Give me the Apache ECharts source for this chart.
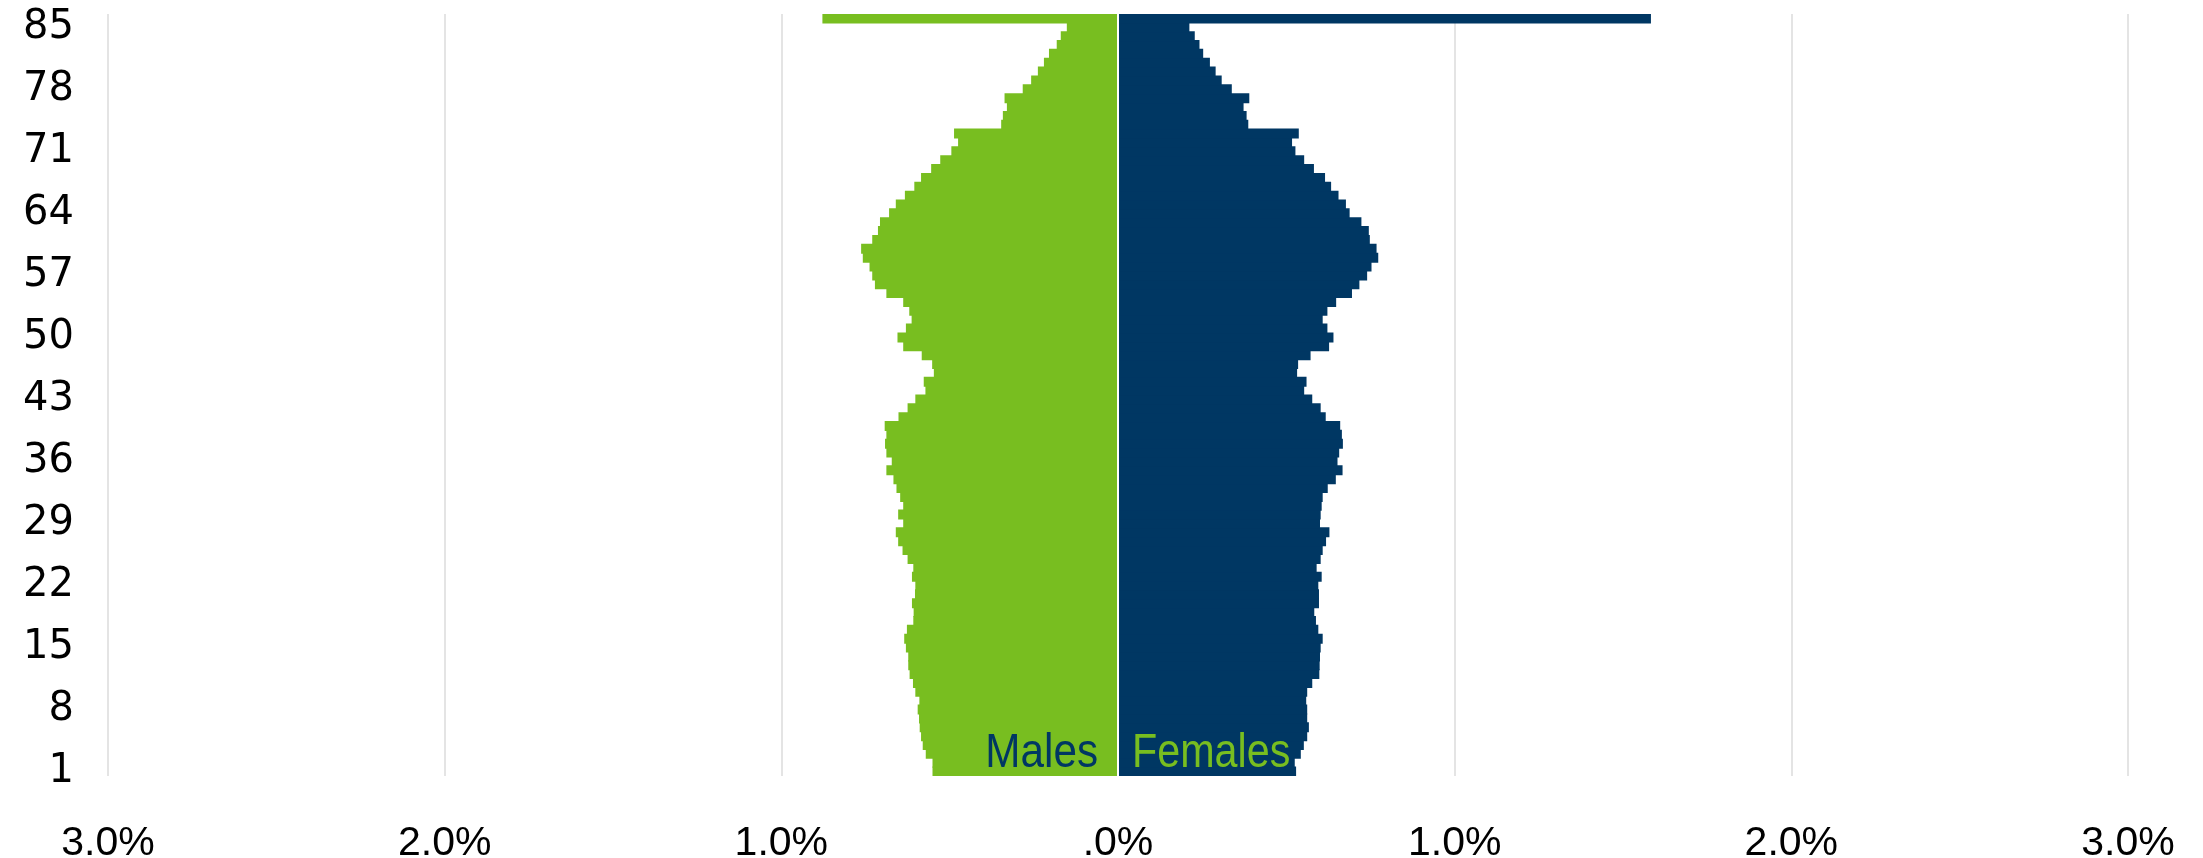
<!DOCTYPE html>
<html>
<head>
<meta charset="utf-8">
<script src="https://cdn.jsdelivr.net/npm/echarts@6/dist/echarts.min.js"></script>
<style>
    html, body { margin: 0; padding: 0; background: #fff; }
    #pyramid { width: 2203px; height: 858px; }
</style>
</head>
<body>
<div id="pyramid"></div>
<script>
    // ages 1..86 (bottom to top), values in % of total population
    const ages = [];
    for (let a = 1; a <= 86; a++) ages.push(String(a));

    const males = [
        0.551, 0.551, 0.571, 0.580, 0.585, 0.589, 0.591, 0.595, 0.590, 0.602,
        0.609, 0.619, 0.623, 0.623, 0.630, 0.635, 0.627, 0.608, 0.607, 0.612,
        0.603, 0.602, 0.612, 0.608, 0.625, 0.640, 0.653, 0.660, 0.638, 0.653,
        0.638, 0.647, 0.658, 0.667, 0.688, 0.672, 0.688, 0.692, 0.688, 0.693,
        0.652, 0.625, 0.602, 0.572, 0.577, 0.547, 0.552, 0.583, 0.638, 0.655,
        0.630, 0.613, 0.620, 0.638, 0.688, 0.722, 0.730, 0.738, 0.758, 0.763,
        0.730, 0.713, 0.707, 0.680, 0.660, 0.633, 0.605, 0.585, 0.555, 0.528,
        0.495, 0.475, 0.487, 0.347, 0.342, 0.330, 0.337, 0.283, 0.258, 0.238,
        0.220, 0.205, 0.182, 0.170, 0.152, 0.878
    ];

    const females = [
        0.529, 0.525, 0.543, 0.552, 0.562, 0.567, 0.562, 0.562, 0.559, 0.562,
        0.577, 0.598, 0.599, 0.600, 0.602, 0.608, 0.595, 0.588, 0.583, 0.597,
        0.597, 0.595, 0.605, 0.590, 0.602, 0.608, 0.618, 0.628, 0.600, 0.602,
        0.605, 0.608, 0.623, 0.647, 0.667, 0.652, 0.657, 0.668, 0.665, 0.660,
        0.617, 0.602, 0.577, 0.553, 0.560, 0.532, 0.535, 0.572, 0.627, 0.640,
        0.622, 0.608, 0.622, 0.648, 0.695, 0.717, 0.740, 0.753, 0.773, 0.768,
        0.748, 0.745, 0.723, 0.688, 0.677, 0.655, 0.633, 0.615, 0.582, 0.553,
        0.527, 0.517, 0.537, 0.387, 0.382, 0.373, 0.390, 0.338, 0.308, 0.290,
        0.273, 0.253, 0.242, 0.228, 0.212, 1.583
    ];

    const GREEN = '#78be20';
    const NAVY = '#003763';

    const chart = echarts.init(document.getElementById('pyramid'));

    function pctLabel(v) {
        let s = Math.abs(v).toFixed(1);
        if (s.charAt(0) === '0') s = s.slice(1);
        return s + '%';
    }

    let option = {
        animation: false,
        grid: {
            left: 108,
            right: 75,
            top: 14,
            bottom: 82,
            outerBoundsMode: 'none'
        },
        xAxis: {
            type: 'value',
            min: -3,
            max: 3,
            interval: 1,
            axisLine: { show: false },
            axisTick: { show: false },
            splitLine: { lineStyle: { color: '#e4e4e4', width: 2 } },
            axisLabel: {
                margin: 47,
                formatter: pctLabel,
                color: '#000',
                fontFamily: 'Liberation Sans',
                fontSize: 41
            }
        },
        yAxis: {
            type: 'category',
            data: ages,
            axisLine: { show: false },
            axisTick: { show: false },
            axisLabel: {
                interval: 6,
                margin: 34,
                color: '#000',
                fontFamily: 'DejaVu Sans',
                fontSize: 40
            }
        },
        series: [
            {
                name: 'Males',
                type: 'bar',
                barWidth: 10, // a touch wider than the band so neighbours overlap, no seams
                barGap: '-100%',
                itemStyle: { color: GREEN },
                data: males.map(v => -v),
                markLine: {
                    silent: true,
                    symbol: 'none',
                    label: { show: false },
                    lineStyle: { color: '#fff', width: 2, type: 'solid' },
                    data: [{ xAxis: 0 }]
                }
            },
            {
                name: 'Females',
                type: 'bar',
                barWidth: 10,
                itemStyle: { color: NAVY },
                data: females
            }
        ]
    };

    chart.setOption(option);

    // side captions, anchored near the centre line at the bottom of the pyramid
    const p = chart.convertToPixel({ gridIndex: 0 }, [0, '3']);
    chart.setOption({
        graphic: [
            {
                type: 'text',
                x: p[0] - 20,
                y: p[1],
                z: 100,
                scaleX: 0.88,
                style: {
                    text: 'Males',
                    fill: NAVY,
                    fontFamily: 'Liberation Sans',
                    fontSize: 48,
                    align: 'right',
                    verticalAlign: 'middle'
                }
            },
            {
                type: 'text',
                x: p[0] + 14,
                y: p[1],
                z: 100,
                scaleX: 0.86,
                style: {
                    text: 'Females',
                    fill: GREEN,
                    fontFamily: 'Liberation Sans',
                    fontSize: 48,
                    align: 'left',
                    verticalAlign: 'middle'
                }
            }
        ]
    });
</script>
</body>
</html>
